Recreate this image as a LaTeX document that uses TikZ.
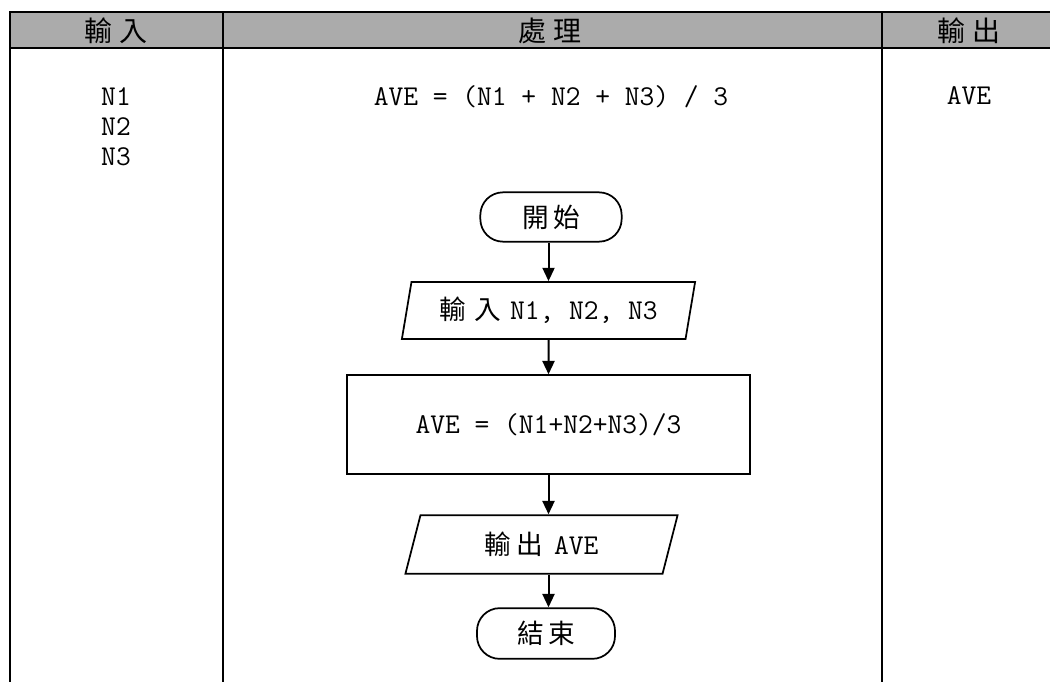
\documentclass[tikz,border=0pt]{standalone}
\usepackage{fontspec}
\newfontfamily\cjk{Noto Sans CJK TC}
\newcommand\cjkfs{\fontsize{20}{24}\selectfont\cjk}
\newcommand\monofs{\fontsize{21.5}{22.5}\selectfont\ttfamily}
\usetikzlibrary{shapes.geometric,arrows.meta}
\begin{document}
\begin{tikzpicture}[x=0.75pt,y=-0.75pt,
  rule/.style={line width=1.4pt},
  arr/.style={line width=1.5pt,-{Triangle[length=10pt,width=9pt]}},
  term/.style={draw,line width=1.3pt,rounded corners=17pt,inner sep=0pt},
  io/.style={draw,line width=1.3pt,trapezium,trapezium left angle=74,trapezium right angle=106,trapezium stretches=true,inner sep=0pt},
  proc/.style={draw,line width=1.3pt,minimum width=302pt,minimum height=74pt,inner sep=0pt},
  mono/.style={font=\monofs},
  hdr/.style={font=\fontsize{21}{24}\selectfont\cjk}
]
\useasboundingbox (0,0) rectangle (1050,682);
% header band and table rules
\fill[black!33] (10,12) rectangle (1050,48);
\draw[rule] (1050,12) -- (10,12) -- (10,682);
\draw[rule] (10,48) -- (1050,48);
\draw[rule] (223,12) -- (223,682);
\draw[rule] (882,12) -- (882,682);
\node[hdr] (h1) at (116,31) {輸\hspace{6pt}入};
\node[hdr] (h2) at (550,31) {處\hspace{6pt}理};
\node[hdr] (h3) at (969,31) {輸\hspace{6pt}出};
% column contents
\node[mono,align=center] (inp) at (116,127) {N1\\N2\\N3};
\node[mono] (formula) at (551,97) {AVE = (N1 + N2 + N3) / 3};
\node[mono] (outp) at (969,96) {AVE};
% flowchart
\node[term,minimum width=106pt,minimum height=37pt] (start) at (551,217) {\cjkfs 開\hspace{3pt}始};
\node[io,minimum width=220pt,minimum height=42.75pt] (in) at (548.5,310.5) {{\cjkfs 輸\hspace{6pt}入}\hspace{7pt}{\monofs N1, N2, N3}};
\node[proc] (calc) at (548.5,424.5) {\monofs AVE = (N1+N2+N3)/3};
\node[io,minimum width=205pt,minimum height=44pt] (out) at (541.5,544.5) {{\cjkfs 輸\hspace{4pt}出}\hspace{8pt}{\monofs AVE}};
\node[term,minimum width=103.5pt,minimum height=38pt] (end) at (546,633.5) {\cjkfs 結\hspace{3pt}束};
\draw[arr] (start.south -| in.north) -- (in.north);
\draw[arr] (in.south) -- (calc.north);
\draw[arr] (calc.south) -- (calc.south |- out.north);
\draw[arr] (calc.south |- out.south) -- (calc.south |- end.north);
\end{tikzpicture}
\end{document}
